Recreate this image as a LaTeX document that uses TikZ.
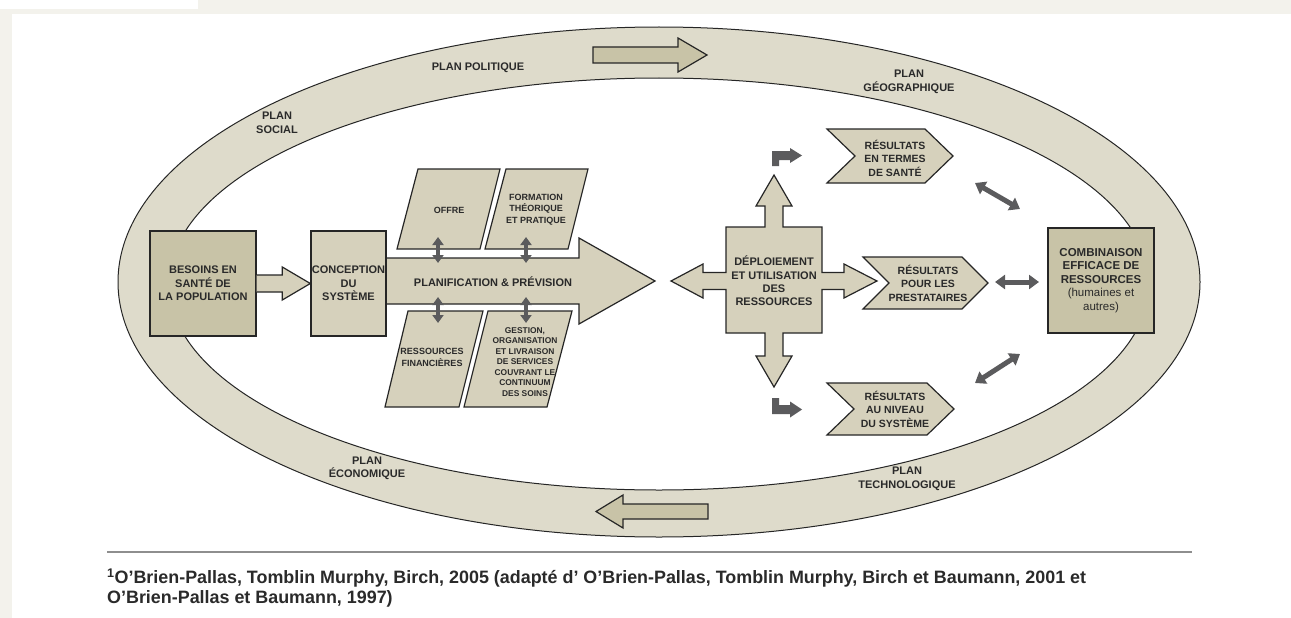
\documentclass[tikz,border=0pt]{standalone}
\usepackage{fontspec}
\setmainfont{Liberation Sans}
\usetikzlibrary{arrows.meta,calc}
\definecolor{framec}{HTML}{F3F2EC}
\definecolor{ringc}{HTML}{DEDBCB}
\definecolor{darkbeige}{HTML}{C8C3A7}
\definecolor{midbeige}{HTML}{D6D1BC}
\definecolor{darrowc}{HTML}{5B5B5D}
\definecolor{txt}{HTML}{2A2A2A}
\definecolor{linec}{HTML}{262626}
\definecolor{rulec}{HTML}{8E8E8E}
\tikzset{
  lbl/.style={font=\bfseries\fontsize{11}{13.3}\selectfont, text=txt, align=center, inner sep=0pt},
  ringlbl/.style={font=\bfseries\fontsize{11}{13.5}\selectfont, text=txt, align=center, inner sep=0pt},
  parlbl/.style={font=\bfseries\fontsize{9}{11.3}\selectfont, text=txt, align=center, inner sep=0pt},
  tinylbl/.style={font=\bfseries\fontsize{8.4}{10.5}\selectfont, text=txt, align=center, inner sep=0pt},
  hexlbl/.style={font=\bfseries\fontsize{10.5}{13.5}\selectfont, text=txt, align=center, inner sep=0pt},
  blk/.style={draw=linec, line width=1.2pt, line join=miter},
  box/.style={draw=linec, line width=1.4pt, inner sep=0pt, lbl},
  darrow/.style={draw=darrowc, line width=5pt, arrows={Triangle[width=14pt,length=10pt]-Triangle[width=14pt,length=10pt]}},
  vdarrow/.style={draw=darrowc, line width=4pt, arrows={Triangle[width=11pt,length=8pt]-Triangle[width=11pt,length=8pt]}},
  bent/.style={fill=darrowc},
}
\begin{document}
\begin{tikzpicture}[x=1pt,y=-1pt]
\useasboundingbox (0,0) rectangle (1291,618);
% page frame
\fill[framec] (0,0) rectangle (1291,618);
\fill[white] (0,0) rectangle (198,9);
\fill[white] (12,14) rectangle (1291,618);

% ring
\path[fill=ringc, draw=linec, line width=1pt, even odd rule]
  (659,282) ellipse [x radius=541pt, y radius=255pt]
  (659,284) ellipse [x radius=490pt, y radius=206pt];

% ring arrows
\draw[blk, fill=darkbeige] (593,47) -- (678,47) -- (678,38) -- (707,55) -- (678,72) -- (678,63) -- (593,63) -- cycle;
\draw[blk, fill=darkbeige] (708,504) -- (623,504) -- (623,495) -- (596,511.5) -- (623,528) -- (623,519) -- (708,519) -- cycle;

% ring labels
\node[ringlbl] (politique) at (478,68) {PLAN POLITIQUE};
\node[ringlbl] (geo) at (909,82) {PLAN\\GÉOGRAPHIQUE};
\node[ringlbl] (social) at (277,123) {PLAN\\SOCIAL};
\node[ringlbl] (eco) at (367,468.5) {PLAN\\ÉCONOMIQUE};
\node[ringlbl] (techno) at (907,479) {PLAN\\TECHNOLOGIQUE};

% big planning arrow
\draw[blk, fill=midbeige] (386,258) -- (579,258) -- (579,238) -- (655,281) -- (579,324) -- (579,304) -- (386,304);

% boxes
\node[box, fill=darkbeige, minimum width=106pt, minimum height=105pt] (besoins) at (203,283.5) {BESOINS EN\\SANTÉ DE\\LA POPULATION};
\node[box, fill=midbeige, minimum width=75pt, minimum height=105pt] (conc) at (348.5,283.5) {CONCEPTION\\DU\\SYSTÈME};
\node[lbl] (planif) at (493,282) {PLANIFICATION \& PRÉVISION};

% block arrow besoins -> conception
\draw[blk, fill=midbeige] ($(besoins.east)+(0,-8.5)$) -- ($(conc.west)+(-28,-8.5)$) -- ($(conc.west)+(-28,-16.5)$)
  -- (conc.west) -- ($(conc.west)+(-28,16.5)$) -- ($(conc.west)+(-28,8.5)$) -- ($(besoins.east)+(0,8.5)$);

% parallelograms
\draw[blk, fill=midbeige] (418,169) -- (500,169) -- (480,249) -- (397,249) -- cycle;
\node[parlbl] (offre) at (449,210) {OFFRE};
\draw[blk, fill=midbeige] (506,169) -- (588,169) -- (568,249) -- (485,249) -- cycle;
\node[parlbl] (formation) at (536,209.5) {FORMATION\\THÉORIQUE\\ET PRATIQUE};
\draw[blk, fill=midbeige] (408,311) -- (483,311) -- (459,407) -- (385,407) -- cycle;
\node[parlbl] (finance) at (432,357.5) {RESSOURCES\\FINANCIÈRES};
\draw[blk, fill=midbeige] (488,311) -- (572,311) -- (547,407) -- (464,407) -- cycle;
\node[tinylbl] (gestion) at (525,362) {GESTION,\\ORGANISATION\\ET LIVRAISON\\DE SERVICES\\COUVRANT LE\\CONTINUUM\\DES SOINS};

% small vertical double arrows
\coordinate (o1) at (438,237); \coordinate (o2) at (438,263);
\coordinate (f1) at (526,237); \coordinate (f2) at (526,263);
\coordinate (r1) at (438,297); \coordinate (r2) at (438,323);
\coordinate (g1) at (526,297); \coordinate (g2) at (526,323);
\draw[vdarrow] (o1) -- (o2);
\draw[vdarrow] (f1) -- (f2);
\draw[vdarrow] (r1) -- (r2);
\draw[vdarrow] (g1) -- (g2);

% cross
\draw[blk, fill=midbeige] (774,175) -- (792,206) -- (783,206) -- (783,227) -- (822,227) -- (822,272.5) -- (844,272.5) -- (844,264)
  -- (877,281) -- (844,298) -- (844,289.5) -- (822,289.5) -- (822,333) -- (783,333) -- (783,356) -- (792,356)
  -- (774,387) -- (756,356) -- (765,356) -- (765,333) -- (726,333) -- (726,289.5) -- (703,289.5) -- (703,298)
  -- (671,281) -- (703,264) -- (703,272.5) -- (726,272.5) -- (726,227) -- (765,227) -- (765,206) -- (756,206) -- cycle;
\node[lbl] (deploi) at (774,281) {DÉPLOIEMENT\\ET UTILISATION\\DES\\RESSOURCES};

% bent arrows
\fill[bent] (772,166) -- (772,151) -- (790,151) -- (790,148) -- (802,155.5) -- (790,163) -- (790,160) -- (779,160) -- (779,166) -- cycle;
\fill[bent] (772,398) -- (779,398) -- (779,405) -- (790,405) -- (790,401.5) -- (802,409.5) -- (790,417.5) -- (790,414) -- (772,414) -- cycle;

% result chevrons
\draw[blk, fill=midbeige] (827,129) -- (925,129) -- (953,156) -- (925,183) -- (827,183) -- (855,156) -- cycle;
\node[hexlbl] (res1) at (895,158) {RÉSULTATS\\EN TERMES\\DE SANTÉ};
\draw[blk, fill=midbeige] (863,257) -- (962,257) -- (988,283) -- (962,309) -- (863,309) -- (889,283) -- cycle;
\node[hexlbl] (res2) at (928,283) {RÉSULTATS\\POUR LES\\PRESTATAIRES};
\draw[blk, fill=midbeige] (827,383) -- (927,383) -- (954,409) -- (927,435) -- (827,435) -- (854,409) -- cycle;
\node[hexlbl] (res3) at (895,409) {RÉSULTATS\\AU NIVEAU\\DU SYSTÈME};

% combination box
\node[box, fill=darkbeige, minimum width=106pt, minimum height=105pt, font=\bfseries\fontsize{11.5}{13.5}\selectfont] (combi) at (1101,280.5)
  {COMBINAISON\\EFFICACE DE\\RESSOURCES\\\mdseries (humaines et\\\mdseries autres)};

% diagonal double arrows
\coordinate (d1a) at (975,183); \coordinate (d1b) at (1020,209);
\coordinate (d2a) at (995,282); \coordinate (d2b) at (1039,282);
\coordinate (d3a) at (975,383); \coordinate (d3b) at (1020,354);
\draw[darrow] (d1a) -- (d1b);
\draw[darrow] (d2a) -- (d2b);
\draw[darrow] (d3a) -- (d3b);

% footnote
\coordinate (rl) at (107,552); \coordinate (rr) at (1192,552);
\draw[rulec, line width=2pt] (rl) -- (rr);
\node[anchor=west, inner sep=0pt, text=txt, font=\bfseries\fontsize{17.9}{21}\selectfont] (fn1) at (107,578)
  {\textsuperscript{1}O’Brien-Pallas, Tomblin Murphy, Birch, 2005 (adapté d’ O’Brien-Pallas, Tomblin Murphy, Birch et Baumann, 2001 et};
\node[anchor=west, inner sep=0pt, text=txt, font=\bfseries\fontsize{17.9}{21}\selectfont] (fn2) at (107,599)
  {O’Brien-Pallas et Baumann, 1997)};
\end{tikzpicture}
\end{document}
